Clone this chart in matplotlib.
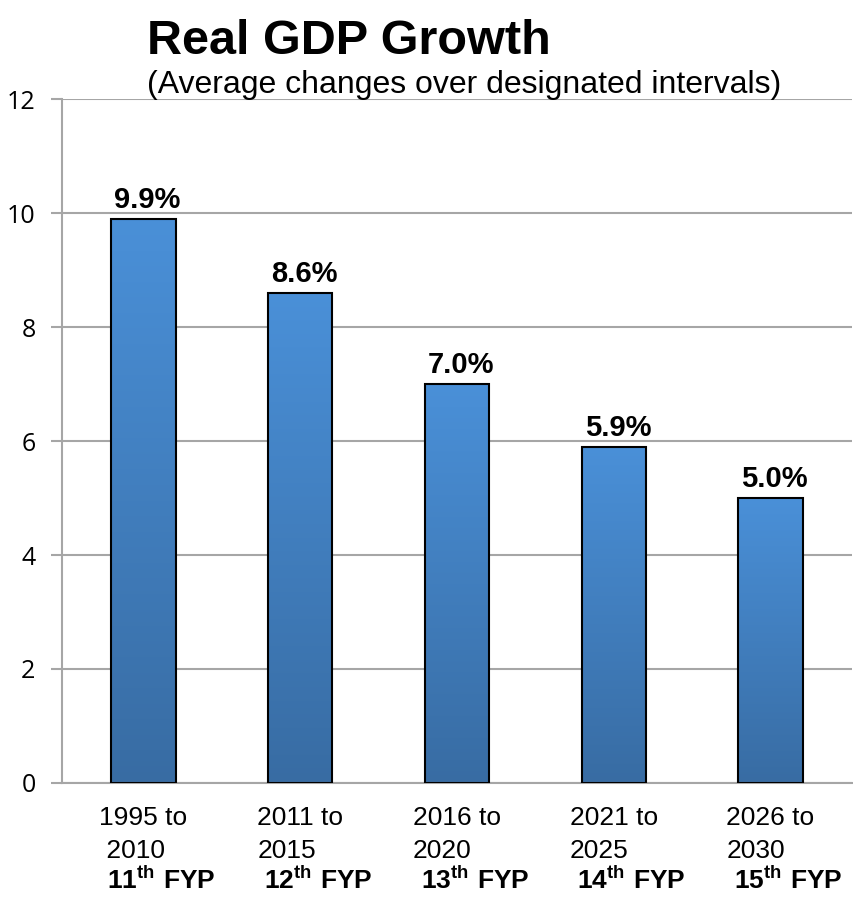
# Real GDP Growth - bar chart with gradient bars

import numpy as np
import matplotlib
matplotlib.use('Agg')
import matplotlib.pyplot as plt
from matplotlib.colors import LinearSegmentedColormap

plt.rcParams['font.family'] = ['Liberation Sans', 'DejaVu Sans']
plt.rcParams['mathtext.fontset'] = 'custom'
plt.rcParams['mathtext.rm'] = 'Liberation Sans'
plt.rcParams['mathtext.bf'] = 'Liberation Sans:bold'

# data
periods = ['1995 to\n 2010', '2011 to\n2015', '2016 to\n2020', '2021 to\n2025', '2026 to\n2030']
plans = ['11', '12', '13', '14', '15']
growth = [9.9, 8.6, 7.0, 5.9, 5.0]
yticks = [0, 2, 4, 6, 8, 10, 12]

fig = plt.figure(figsize=(8.54, 8.97), dpi=100)
ax = fig.add_axes([0.0726, 0.1271, 0.925, 0.7625])

x = np.arange(len(growth))
bars = ax.bar(x, growth, width=0.41, color='none', edgecolor='black', linewidth=1.5, zorder=3)

# vertical gradient fill inside each bar
cmap = LinearSegmentedColormap.from_list('blues', ['#386ca3', '#4a90d8'])
grad = np.linspace(0, 1, 256).reshape(-1, 1)
for b in bars:
    x0, y0 = b.get_x(), b.get_y()
    w, h = b.get_width(), b.get_height()
    im = ax.imshow(grad, cmap=cmap, origin='lower', aspect='auto',
                   extent=[x0, x0 + w, y0, y0 + h], zorder=2)
    im.set_clip_path(b)

ax.set_xlim(-0.52, 4.52)
ax.set_ylim(0, 12)
ax.set_yticks(yticks)
ax.set_yticklabels([str(t) for t in yticks], fontsize=18, family=['Open Sans', 'Liberation Sans'])
ax.set_xticks([])

ax.yaxis.grid(True, color='#a6a6a6', linewidth=1.5, zorder=0)
ax.set_axisbelow(True)
for s in ['top', 'right']:
    ax.spines[s].set_visible(False)
ax.spines['left'].set_color('#a6a6a6')
ax.spines['left'].set_linewidth(1.5)
ax.spines['bottom'].set_color('#a6a6a6')
ax.spines['bottom'].set_linewidth(1.5)
ax.tick_params(axis='y', length=8, width=1.5, color='#a6a6a6', pad=11)

# value labels
for xi, v in zip(x, growth):
    ax.annotate(f'{v:.1f}%', (xi, v), xytext=(3, 8), textcoords='offset points',
                ha='center', va='baseline', fontsize=21, fontweight='bold')

# category labels
for xi, p, n in zip(x, periods, plans):
    ax.text(xi, -0.034, p, transform=ax.get_xaxis_transform(), ha='center', va='top',
            multialignment='left', fontsize=19, linespacing=1.45)
    ax.annotate(r'$\mathbf{' + n + r'^{th}\ FYP}$', (xi, 0), xycoords=ax.get_xaxis_transform(),
                xytext=(13, -76), textcoords='offset points', ha='center', va='baseline',
                fontsize=19)

fig.text(0.172, 0.94, 'Real GDP Growth', fontsize=35, fontweight='bold', ha='left', va='baseline')
fig.text(0.172, 0.896, '(Average changes over designated intervals)', fontsize=23,
         ha='left', va='baseline')

fig.savefig('out.png', dpi=100)
